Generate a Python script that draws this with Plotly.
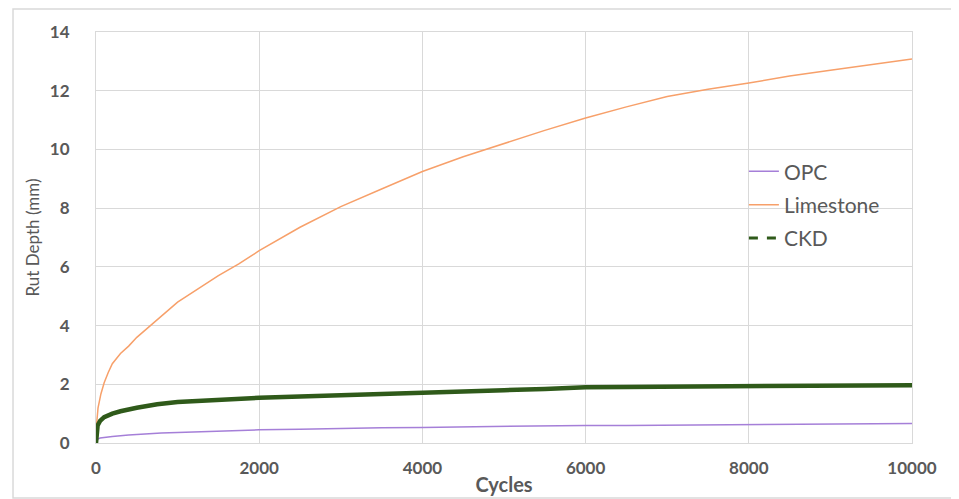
import plotly.graph_objects as go

# Data
opc_cycles = [0, 10, 50, 100, 200, 400, 600, 800, 1000, 1500, 2000, 2500, 3000, 3500, 4000, 4500,
              5000, 5500, 6000, 6500, 7000, 7500, 8000, 8500, 9000, 9500, 10000]
opc_depth = [0.0, 0.12, 0.17, 0.19, 0.22, 0.27, 0.31, 0.34, 0.36, 0.41, 0.45, 0.47, 0.50, 0.52, 0.53, 0.55,
             0.56, 0.59, 0.60, 0.60, 0.61, 0.61, 0.62, 0.62, 0.63, 0.65, 0.66]

lime_cycles = [0, 10, 25, 60, 100, 150, 200, 300, 400, 500, 667, 800, 1000, 1250, 1500, 1750, 2000,
               2500, 3000, 3500, 4000, 4500, 5000, 5500, 6000, 6500, 7000, 7500, 8000, 8500, 9000, 9500, 10000]
lime_depth = [0.4, 0.9, 1.2, 1.67, 2.05, 2.4, 2.7, 3.05, 3.3, 3.6, 4.0, 4.3, 4.8, 5.25, 5.7, 6.1, 6.55,
              7.35, 8.05, 8.65, 9.25, 9.75, 10.2, 10.65, 11.07, 11.45, 11.8, 12.05, 12.26, 12.5, 12.7, 12.9, 13.08]

ckd_cycles = [0, 5, 20, 50, 100, 200, 300, 500, 750, 1000, 1500, 2000, 2500, 3000, 3500, 4000, 4500,
              5000, 5500, 6000, 6500, 7000, 7500, 8000, 8500, 9000, 9500, 10000]
ckd_depth = [0.0, 0.45, 0.6, 0.75, 0.88, 1.0, 1.08, 1.2, 1.32, 1.4, 1.48, 1.54, 1.58, 1.63, 1.67, 1.73, 1.77,
             1.80, 1.84, 1.90, 1.91, 1.92, 1.93, 1.94, 1.97, 1.97, 1.97, 1.97]

x_ticks = [0, 2000, 4000, 6000, 8000, 10000]
y_ticks = [0, 2, 4, 6, 8, 10, 12, 14]

OPC_COLOR = "#a57fd8"
LIME_COLOR = "#f7a06a"
CKD_COLOR = "#2f5a1a"
GRID = "#d9d9d9"
TXT = "#595959"
FONT = "Lato, Open Sans, sans-serif"

fig = go.Figure()
fig.add_trace(go.Scatter(x=opc_cycles, y=opc_depth, mode="lines", name="OPC",
                         line=dict(color=OPC_COLOR, width=1.5), legendgroup="a"))
fig.add_trace(go.Scatter(x=lime_cycles, y=lime_depth, mode="lines", name="Limestone",
                         line=dict(color=LIME_COLOR, width=1.5), legendgroup="b"))
fig.add_trace(go.Scatter(x=ckd_cycles, y=ckd_depth, mode="lines", name="CKD",
                         line=dict(color=CKD_COLOR, width=4.5), showlegend=False, legendgroup="c"))
fig.add_trace(go.Scatter(x=[None], y=[None], mode="lines", name="CKD",
                         line=dict(color=CKD_COLOR, width=3, dash="dash"), legendgroup="c"))

fig.update_layout(
    width=952, height=492,
    margin=dict(l=88, r=48, t=24, b=57),
    paper_bgcolor="white", plot_bgcolor="white",
    font=dict(family=FONT, color=TXT, size=14),
    showlegend=True,
    legend=dict(x=0.794, y=0.71, xanchor="left", yanchor="top",
                bgcolor="rgba(0,0,0,0)", font=dict(size=21, color=TXT, family=FONT),
                traceorder="grouped", tracegroupgap=3),
    xaxis=dict(range=[0, 10000], tickvals=x_ticks, ticktext=[str(v) for v in x_ticks],
               showgrid=True, gridcolor=GRID, gridwidth=1, zeroline=False,
               showline=True, linecolor=GRID, mirror=True, automargin=False,
               ticks="outside", ticklen=10, tickcolor="rgba(0,0,0,0)",
               tickfont=dict(size=17, color=TXT, family=FONT, weight="bold"),
               title=dict(text="Cycles", font=dict(size=20, color=TXT, family=FONT, weight="bold"), standoff=0)),
    yaxis=dict(range=[0, 14], tickvals=y_ticks, ticktext=[str(v) for v in y_ticks],
               showgrid=True, gridcolor=GRID, gridwidth=1, zeroline=False,
               showline=True, linecolor=GRID, mirror=True, automargin=False,
               ticks="outside", ticklen=22, tickcolor="rgba(0,0,0,0)",
               tickfont=dict(size=17, color=TXT, family=FONT, weight="bold"),
               title=dict(text="Rut Depth (mm)", font=dict(size=17, color=TXT, family=FONT), standoff=5)),
    shapes=[dict(type="rect", xref="paper", yref="paper",
                 x0=-0.1017, x1=1.054, y0=-0.134, y1=1.056,
                 line=dict(color="#d9d9d9", width=1.5), fillcolor="rgba(0,0,0,0)", layer="below")],
)

fig.write_html("out.html")
